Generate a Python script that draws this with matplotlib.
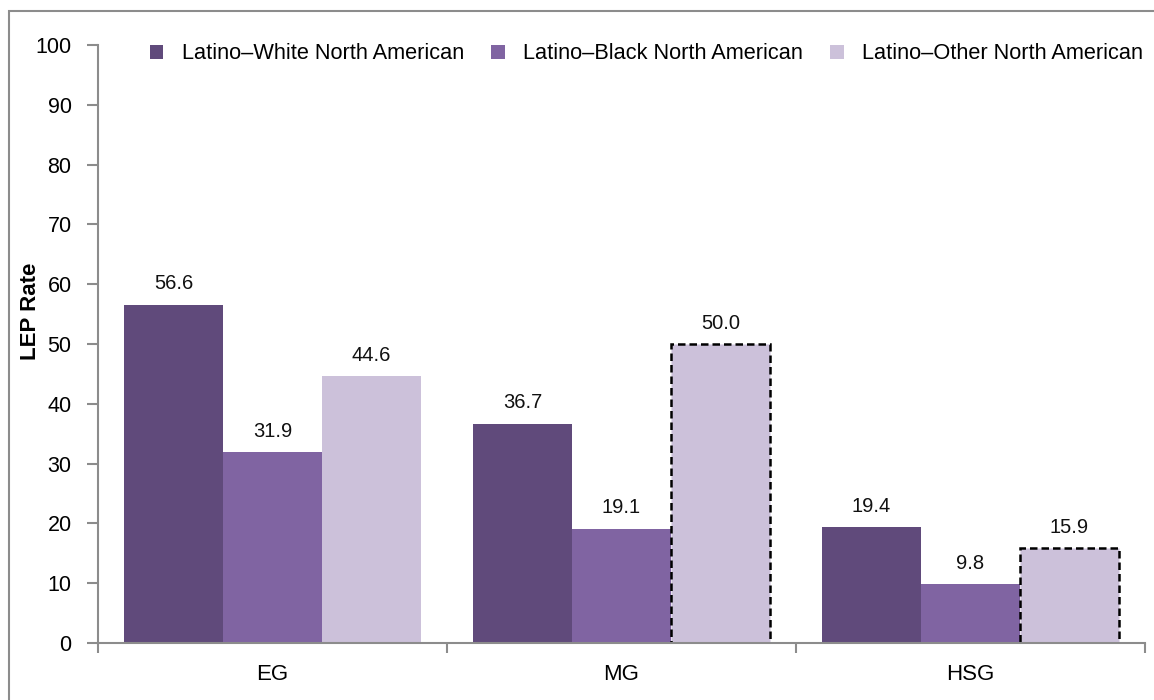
import matplotlib
matplotlib.use("Agg")
import matplotlib.pyplot as plt
import numpy as np
from matplotlib.patches import Rectangle

plt.rcParams['font.family'] = ['Liberation Sans', 'DejaVu Sans']

categories = ["EG", "MG", "HSG"]
series_names = ["Latino\u2013White North American", "Latino\u2013Black North American", "Latino\u2013Other North American"]
white_vals = [56.6, 36.7, 19.4]
black_vals = [31.9, 19.1, 9.8]
other_vals = [44.6, 50.0, 15.9]
dashed_other = [False, True, True]
colors = ["#604A7B", "#8064A2", "#CCC1DA"]
yticks = [0, 10, 20, 30, 40, 50, 60, 70, 80, 90, 100]

fig = plt.figure(figsize=(11.54, 7.0), dpi=100)
ax = fig.add_axes([98/1154, 1-643/700, (1145-98)/1154, (643-45)/700])

# outer border
fig.patches.append(Rectangle((9/1154, -0.05), 1.1, 1-11/700+0.05, transform=fig.transFigure,
                             fill=False, edgecolor="#8C8C8C", linewidth=1.5))

x = np.arange(len(categories))
w = 0.85/3
all_vals = [white_vals, black_vals, other_vals]
for i, (vals, c, name) in enumerate(zip(all_vals, colors, series_names)):
    pos = x + (i-1)*w
    bars = ax.bar(pos, vals, w, color=c, label=name, edgecolor="none", zorder=2)
    for j, (b, v) in enumerate(zip(bars, vals)):
        ax.text(b.get_x()+b.get_width()/2, v+1.9, f"{v:.1f}", ha="center", va="bottom",
                fontsize=14.5, color="#111111")
        if i == 2 and dashed_other[j]:
            b.set_edgecolor("black")
            b.set_linewidth(1.8)
            b.set_linestyle((0, (3, 1.6)))

ax.set_xlim(-0.5, 2.5)
ax.set_ylim(0, 100)
ax.set_yticks(yticks)
ax.set_yticklabels([str(t) for t in yticks], fontsize=15.5)
ax.set_xticks([-0.5, 0.5, 1.5, 2.5])
ax.set_xticklabels([])
ax.set_xticks(x, minor=True)
ax.set_xticklabels(categories, minor=True, fontsize=16)
ax.tick_params(axis='x', which='minor', length=0, pad=15)
ax.tick_params(axis='x', which='major', length=7, color="#8C8C8C", width=1.5, direction='out')
ax.tick_params(axis='y', length=8, color="#8C8C8C", width=1.5, direction='out', pad=11)
for s in ["top", "right"]:
    ax.spines[s].set_visible(False)
for s in ["left", "bottom"]:
    ax.spines[s].set_color("#8C8C8C")
    ax.spines[s].set_linewidth(1.5)

ax.set_ylabel("LEP Rate", fontsize=16, fontweight="bold")
ax.yaxis.set_label_coords(-0.0545, 0.554)

ax.legend(loc="upper right", bbox_to_anchor=(1.0126, 1.028), ncol=3, frameon=False, fontsize=15.65,
          handlelength=0.62, handleheight=0.62, handletextpad=0.85, columnspacing=1.25,
          borderaxespad=0.3)

fig.savefig("out.png", dpi=100)
